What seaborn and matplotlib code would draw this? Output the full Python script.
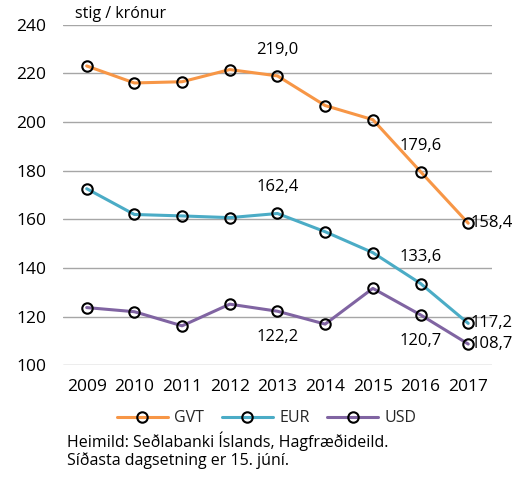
import numpy as np
import pandas as pd
import matplotlib.pyplot as plt
import seaborn as sns

years = [2009, 2010, 2011, 2012, 2013, 2014, 2015, 2016, 2017]
gvt = [223.1, 216.1, 216.6, 221.6, 219.0, 206.8, 201.0, 179.6, 158.4]
eur = [172.6, 162.0, 161.4, 160.7, 162.4, 154.9, 146.3, 133.6, 117.2]
usd = [123.7, 122.0, 116.2, 125.1, 122.2, 116.9, 131.6, 120.7, 108.7]
series = ["GVT", "EUR", "USD"]
colors = ["#F79646", "#4BACC6", "#8064A2"]

df = pd.DataFrame({"year": years * 3,
                   "value": gvt + eur + usd,
                   "series": np.repeat(series, len(years))})

sns.set_style("white")
plt.rcParams['font.family'] = ['Open Sans', 'DejaVu Sans']

fig = plt.figure(figsize=(5.28, 4.78), dpi=100)
ax = fig.add_axes([0.119, 0.236, 0.813, 0.712])

sns.lineplot(data=df, x="year", y="value", hue="series", palette=colors,
             marker="o", markersize=7.5, markerfacecolor="none",
             markeredgecolor="black", markeredgewidth=1.5, linewidth=2.2,
             legend=False, ax=ax)

ax.set_ylim(100, 240)
ax.set_yticks(range(100, 241, 20))
ax.set_xlim(2008.5, 2017.5)
ax.set_xticks(years)
ax.set_xticklabels([str(y) for y in years])
ax.tick_params(axis="both", length=0, labelsize=12.5, colors="black")
ax.tick_params(axis="x", pad=10)
ax.tick_params(axis="y", pad=12)
ax.grid(axis="y", color="#A6A6A6", linewidth=1)
ax.set_axisbelow(True)
for s in ax.spines.values():
    s.set_visible(False)
ax.set_xlabel("")
ax.set_ylabel("")

def fmt(v):
    return f"{v:.1f}".replace(".", ",")

lab = dict(fontsize=12, color="black")
# labels for 2013 and 2016
ax.annotate(fmt(gvt[4]), (2013, gvt[4]), xytext=(0, 13), textcoords="offset points", ha="center", va="bottom", **lab)
ax.annotate(fmt(eur[4]), (2013, eur[4]), xytext=(0, 13), textcoords="offset points", ha="center", va="bottom", **lab)
ax.annotate(fmt(usd[4]), (2013, usd[4]), xytext=(0, -13), textcoords="offset points", ha="center", va="top", **lab)
ax.annotate(fmt(gvt[7]), (2016, gvt[7]), xytext=(0, 13), textcoords="offset points", ha="center", va="bottom", **lab)
ax.annotate(fmt(eur[7]), (2016, eur[7]), xytext=(0, 13), textcoords="offset points", ha="center", va="bottom", **lab)
ax.annotate(fmt(usd[7]), (2016, usd[7]), xytext=(0, -13), textcoords="offset points", ha="center", va="top", **lab)
for vals in (gvt, eur, usd):
    ax.annotate(fmt(vals[8]), (2017, vals[8]), xytext=(2, 0), textcoords="offset points", ha="left", va="center", **lab)

fig.text(0.142, 0.97, "stig / krónur", fontsize=11.5, color="black", va="center")

ax.legend(ax.lines[:3], series, loc="center", bbox_to_anchor=(0.505, 0.125),
          bbox_transform=fig.transFigure, ncol=3, frameon=False, fontsize=11.5,
          handlelength=3.2, columnspacing=1.1, handletextpad=0.4)

fig.text(0.127, 0.077, "Heimild: Seðlabanki Íslands, Hagfræðideild.", fontsize=11.5, color="black", va="center")
fig.text(0.127, 0.036, "Síðasta dagsetning er 15. júní.", fontsize=11.5, color="black", va="center")

fig.savefig("out.png", dpi=100)
